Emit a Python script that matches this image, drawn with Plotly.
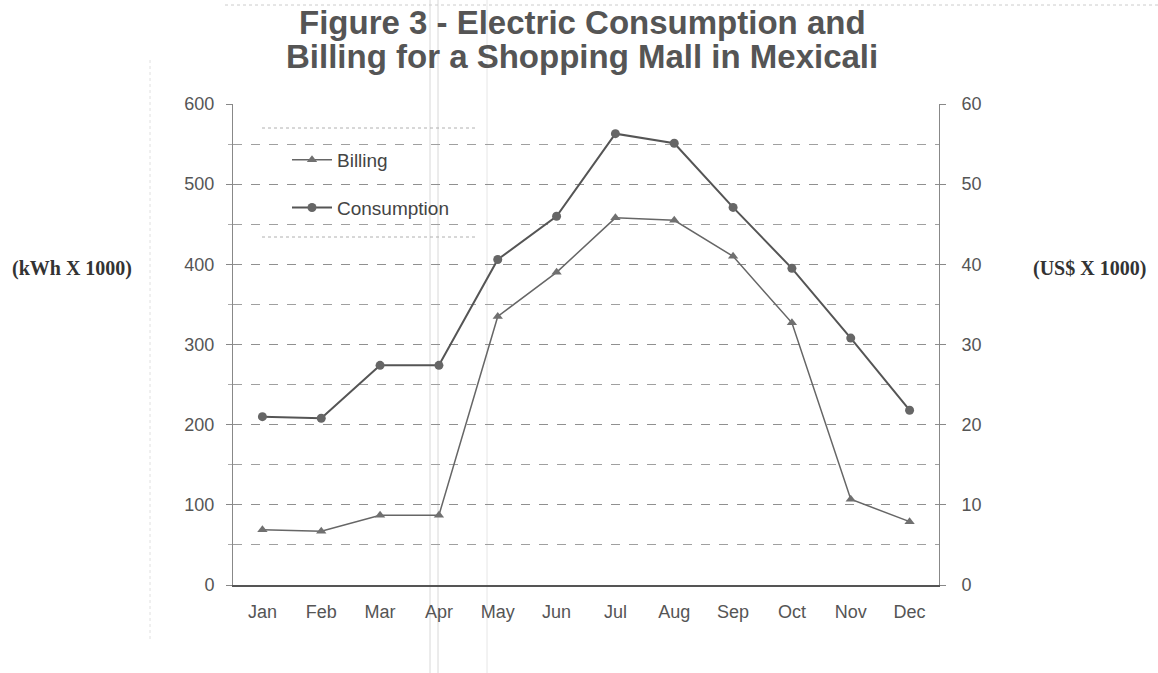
import plotly.graph_objects as go

months = ["Jan", "Feb", "Mar", "Apr", "May", "Jun", "Jul", "Aug", "Sep", "Oct", "Nov", "Dec"]
consumption_kwh = [210, 208, 274, 274, 406, 460, 563, 551, 471, 395, 308, 218]
billing_usd = [6.9, 6.7, 8.7, 8.7, 33.5, 39.0, 45.8, 45.5, 41.0, 32.7, 10.7, 7.9]

W, H = 1158, 673
L, R, T, B = 233, 219, 104, 88
pw, ph = W - L - R, H - T - B

def px(x):
    return (x - L) / pw

def py(y):
    return (H - B - y) / ph

fig = go.Figure()
fig.add_trace(go.Scatter(
    x=months, y=billing_usd, name="Billing", yaxis="y2", legendgroup="b",
    mode="lines+markers",
    line=dict(color="#666666", width=1.5),
    marker=dict(symbol="triangle-up", size=9, color="#707070"),
))
fig.add_trace(go.Scatter(
    x=months, y=consumption_kwh, name="Consumption", yaxis="y", legendgroup="c",
    mode="lines+markers",
    line=dict(color="#555555", width=2),
    marker=dict(symbol="circle", size=9, color="#666666"),
))

axis_font = dict(family="Liberation Sans, Arial", size=18, color="#555555")

fig.update_layout(
    width=W, height=H,
    margin=dict(l=L, r=R, t=T, b=B),
    paper_bgcolor="white", plot_bgcolor="white",
    xaxis=dict(
        type="category", range=[-0.5, 11.5],
        showline=True, linecolor="#555555", linewidth=1.5,
        showgrid=False, ticks="", tickfont=axis_font, ticklabelstandoff=10,
        zeroline=False,
    ),
    yaxis=dict(
        range=[0, 600], dtick=100,
        showline=True, linecolor="#888888", linewidth=1,
        ticks="outside", ticklen=6, tickcolor="#888888",
        showgrid=True, gridcolor="#909090", gridwidth=1, griddash="dash",
        minor=dict(dtick=50, showgrid=True, gridcolor="#a0a0a0", gridwidth=1, griddash="dash",
                   ticks="outside", ticklen=4, tickcolor="#aaaaaa"),
        tickfont=axis_font, ticklabelstandoff=8, zeroline=False,
    ),
    yaxis2=dict(
        range=[0, 60], dtick=10, overlaying="y", side="right",
        showline=True, linecolor="#888888", linewidth=1,
        ticks="outside", ticklen=6, tickcolor="#888888",
        showgrid=False, tickfont=axis_font, ticklabelstandoff=12, zeroline=False,
    ),
    legend=dict(
        x=px(287), y=py(141), xanchor="left", yanchor="top",
        bgcolor="rgba(0,0,0,0)", borderwidth=0,
        font=dict(family="Liberation Sans, Arial", size=19, color="#444444"),
        tracegroupgap=20, itemwidth=40,
    ),
    showlegend=True,
)

title_font = dict(family="Liberation Sans, Arial", size=33, color="#555555", weight="bold")
fig.add_annotation(text="Figure 3 - Electric Consumption and", x=px(582), y=py(22),
                   xref="paper", yref="paper", showarrow=False, font=title_font,
                   xanchor="center", yanchor="middle")
fig.add_annotation(text="Billing for a Shopping Mall in Mexicali", x=px(582), y=py(57),
                   xref="paper", yref="paper", showarrow=False, font=title_font,
                   xanchor="center", yanchor="middle")

serif = dict(family="Liberation Serif, Times New Roman", size=20, color="#333333", weight="bold")
fig.add_annotation(text="(kWh X 1000)", x=px(72), y=py(268), xref="paper", yref="paper",
                   showarrow=False, font=serif, xanchor="center", yanchor="middle")
fig.add_annotation(text="(US$ X 1000)", x=px(1089), y=py(268), xref="paper", yref="paper",
                   showarrow=False, font=serif, xanchor="center", yanchor="middle")

# legend frame lines (top/bottom dotted)
for yy in (128, 237):
    fig.add_shape(type="line", xref="paper", yref="paper",
                  x0=px(262), x1=px(478), y0=py(yy), y1=py(yy),
                  line=dict(color="#b0b0b0", width=1, dash="dot"))

# faint scan creases and outer frame
for xx, c in ((430, "#d8d8d8"), (438, "#d8d8d8"), (487, "#e6e6e6")):
    fig.add_shape(type="line", xref="paper", yref="paper",
                  x0=px(xx), x1=px(xx), y0=py(0), y1=py(H),
                  line=dict(color=c, width=1), layer="below")
fig.add_shape(type="line", xref="paper", yref="paper",
              x0=px(225), x1=px(W), y0=py(5), y1=py(5),
              line=dict(color="#cccccc", width=1, dash="dot"), layer="below")
fig.add_shape(type="line", xref="paper", yref="paper",
              x0=px(150), x1=px(150), y0=py(60), y1=py(640),
              line=dict(color="#e0e0e0", width=1, dash="dot"))

fig.write_html("out.html")
